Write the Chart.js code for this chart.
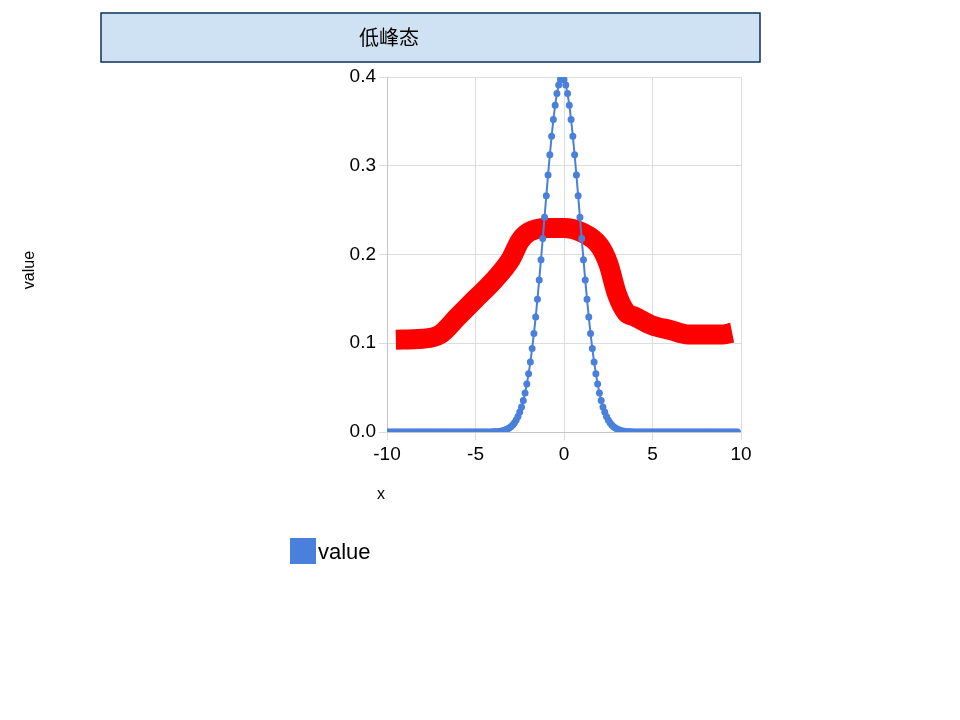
<!DOCTYPE html>
<html>
<head>
<meta charset="utf-8">
<script src="https://cdn.jsdelivr.net/npm/chart.js@4"></script>
<style>body{margin:0;background:#fff}#c{display:block}</style>
</head>
<body>
<canvas id="c" width="960" height="720"></canvas>
<script>
// density, x = 0.0 .. 4.0 step 0.1 (curve is symmetric)
const rightHalf = [0.3989,0.3970,0.3910,0.3814,0.3683,0.3521,0.3332,0.3123,0.2897,0.2661,
  0.2420,0.2179,0.1942,0.1714,0.1497,0.1295,0.1109,0.0940,0.0790,0.0656,
  0.0540,0.0440,0.0355,0.0283,0.0224,0.0175,0.0136,0.0104,0.0079,0.0060,
  0.0044,0.0033,0.0024,0.0017,0.0012,0.0009,0.0006,0.0004,0.0003,0.0002,0.0001];
// x = 4.1 .. 10.0
const tail = [0,0,0,0,0,0,0,0,0,0,0,0,0,0,0,0,0,0,0,0,0,0,0,0,0,0,0,0,0,0,
  0,0,0,0,0,0,0,0,0,0,0,0,0,0,0,0,0,0,0,0,0,0,0,0,0,0,0,0,0];
const values = tail.slice().reverse().concat(rightHalf.slice(1).reverse(), rightHalf, tail);
const xs = values.map((v, i) => Math.round((-10 + i * 0.1) * 10) / 10);

// thick red curve
const redX = [-9.5,-8,-7,-6,-5,-4,-3,-2.5,-2,-1,0,1,2,2.5,3,3.5,4,5,6,7,8,9,9.5];
const redY = [0.104,0.105,0.11,0.13,0.15,0.17,0.195,0.215,0.225,0.23,0.23,0.225,0.21,0.19,0.155,0.135,0.13,0.12,0.115,0.11,0.11,0.11,0.112];

const blue = '#4a80dc';

const decor = {
    id: 'decor',
    afterDraw(chart) {
        const ctx = chart.ctx;
        ctx.save();
        ctx.fillStyle = '#cfe2f3';
        ctx.fillRect(101, 13, 659, 49);
        ctx.strokeStyle = '#0b2f5a';
        ctx.lineWidth = 1.5;
        ctx.strokeRect(101, 13, 659, 49);
        ctx.fillStyle = '#000';
        ctx.font = '20px "Noto Sans CJK SC", sans-serif';
        ctx.textAlign = 'center';
        ctx.textBaseline = 'middle';
        ctx.fillText('低峰态', 389, 37);
        ctx.font = '16px "Liberation Sans", Arial, sans-serif';
        ctx.fillText('x', 381, 495);
        ctx.translate(30, 270);
        ctx.rotate(-Math.PI / 2);
        ctx.fillText('value', 0, 0);
        ctx.restore();
        ctx.save();
        ctx.fillStyle = blue;
        ctx.fillRect(290, 538, 26, 26);
        ctx.fillStyle = '#000';
        ctx.font = '22px "Liberation Sans", Arial, sans-serif';
        ctx.textBaseline = 'middle';
        ctx.fillText('value', 318, 553);
        ctx.restore();
    }
};

new Chart(document.getElementById('c'), {
    type: 'scatter',
    data: {
        datasets: [{
            label: 'value',
            data: xs.map((x, i) => ({ x: x, y: values[i] })),
            showLine: true,
            borderColor: blue,
            backgroundColor: blue,
            borderWidth: 2,
            pointRadius: 2.5,
            order: 1
        }, {
            label: 'red',
            data: redX.map((x, i) => ({ x: x, y: redY[i] })),
            showLine: true,
            borderColor: '#ff0000',
            borderWidth: 20,
            pointRadius: 0,
            cubicInterpolationMode: 'monotone',
            order: 2
        }]
    },
    options: {
        responsive: false,
        animation: false,
        layout: { padding: { left: 0, right: 219, top: 77, bottom: 0 } },
        plugins: { legend: { display: false }, tooltip: { enabled: false } },
        scales: {
            x: {
                type: 'linear', min: -10, max: 10,
                ticks: { stepSize: 5, color: '#000', font: { size: 19, family: '"Liberation Sans", Arial' } },
                grid: { color: '#dddddd' },
                afterFit(s) { s.height = 288; }
            },
            y: {
                min: 0, max: 0.4,
                ticks: { stepSize: 0.1, color: '#000', callback: v => v.toFixed(1), font: { size: 19, family: '"Liberation Sans", Arial' } },
                grid: { color: '#dddddd' },
                afterFit(s) { s.width = 387; }
            }
        }
    },
    plugins: [decor]
});
</script>
</body>
</html>
